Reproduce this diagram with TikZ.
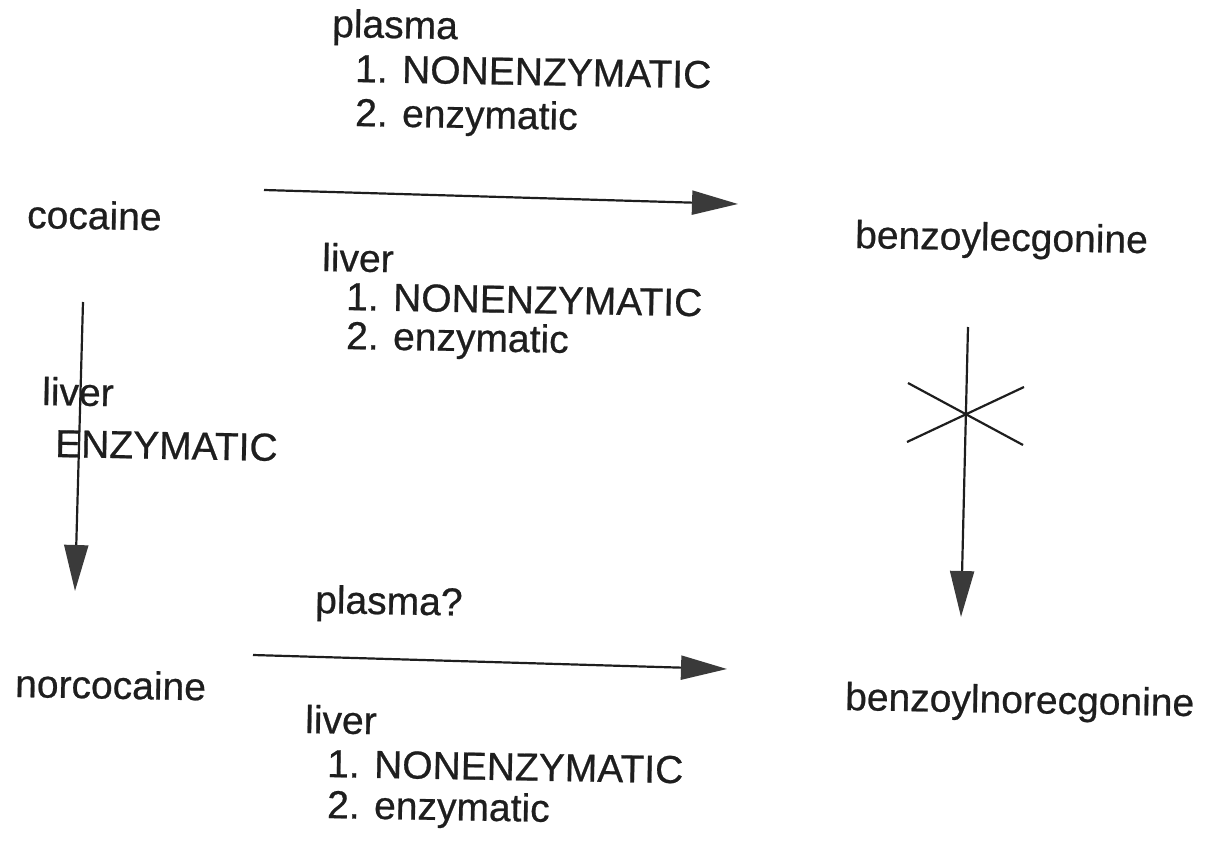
\documentclass[tikz,border=0pt]{standalone}
\usepackage{fontspec}
\setmainfont{Liberation Sans}
\newfontfamily\lblfont[FakeBold=0.6]{Liberation Sans}
\usetikzlibrary{arrows.meta}
\definecolor{ink}{HTML}{1E1E1E}
\definecolor{head}{HTML}{3A3A3A}
\tikzset{
  lbl/.style={anchor=base west, inner sep=0pt, outer sep=0pt, text=ink,
    font=\lblfont\fontsize{39}{46}\selectfont, rotate=-1},
  conn/.style={draw=ink, line width=2.2pt,
    -{Triangle[length=46pt,width=24pt,fill=head,color=head]}},
  crossline/.style={draw=ink, line width=2.2pt}
}
\begin{document}
\begin{tikzpicture}[x=1pt,y=-1pt]
\useasboundingbox (0,0) rectangle (1216,848);
% compounds
\node[lbl] (coc) at (27,228) {cocaine};
\node[lbl] (bze) at (855,248) {benzoylecgonine};
\node[lbl] (nor) at (15,697) {norcocaine};
\node[lbl] (bzn) at (845,710) {benzoylnorecgonine};
% top labels
\node[lbl] (tp) at (332,37) {plasma};
\node[lbl] (tp1) at (355,82) {1. NONENZYMATIC};
\node[lbl] (tp2) at (355,126) {2. enzymatic};
\node[lbl] (tl) at (322,271) {liver};
\node[lbl] (tl1) at (346,310) {1. NONENZYMATIC};
\node[lbl] (tl2) at (346,349) {2. enzymatic};
% left labels
\node[lbl] (ll) at (42,405) {liver};
\node[lbl] (le) at (55,457) {ENZYMATIC};
% bottom labels
\node[lbl] (bp) at (315,613) {plasma?};
\node[lbl] (bl) at (305,733) {liver};
\node[lbl] (bl1) at (327,777) {1. NONENZYMATIC};
\node[lbl] (bl2) at (327,818) {2. enzymatic};
% connector end points
\coordinate (t0) at (264,190);
\coordinate (t1) at (738,204);
\coordinate (l0) at (83,302);
\coordinate (l1) at (75,591);
\coordinate (b0) at (253,655);
\coordinate (b1) at (727,669);
\coordinate (r0) at (968,327);
\coordinate (r1) at (961,617);
\coordinate (x1) at (908,383);
\coordinate (x2) at (1023,445);
\coordinate (x3) at (907,442);
\coordinate (x4) at (1024,387);
% connectors
\draw[conn] (t0) -- (t1);
\draw[conn] (l0) -- (l1);
\draw[conn] (b0) -- (b1);
\draw[conn] (r0) -- (r1);
\draw[crossline] (x1) -- (x2);
\draw[crossline] (x3) -- (x4);
\end{tikzpicture}
\end{document}
